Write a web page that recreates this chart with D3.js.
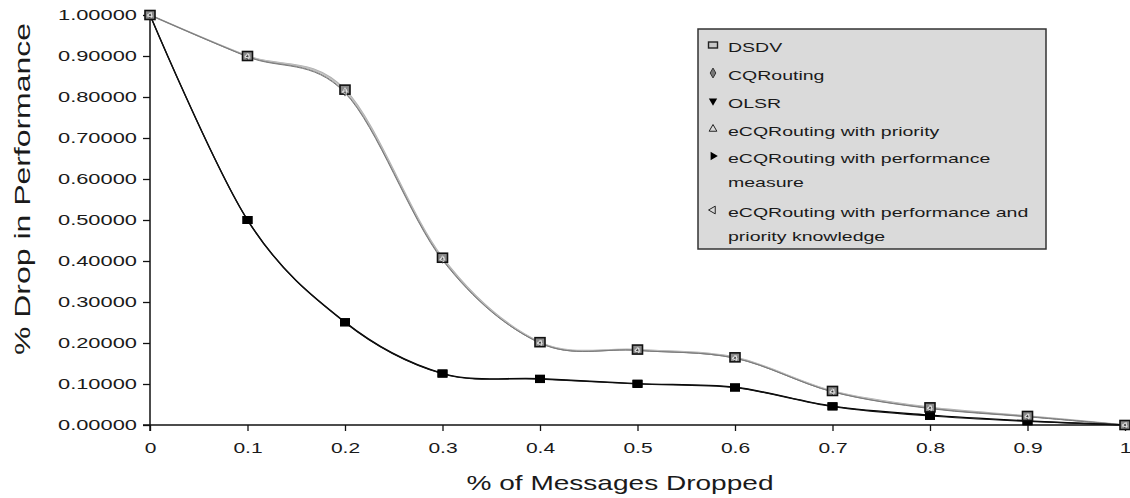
<!DOCTYPE html>
<html><head><meta charset="utf-8">
<script src="https://cdn.jsdelivr.net/npm/d3@7"></script>
<style>
html,body{margin:0;padding:0;background:#fff;}
text{font-family:"Liberation Sans",Arial,sans-serif;fill:#1a1a1a;}
</style></head>
<body><svg id="chart" width="1130" height="498"></svg>
<script>
// ---- data ----
const dropRates = [0, 0.1, 0.2, 0.3, 0.4, 0.5, 0.6, 0.7, 0.8, 0.9, 1];
const dsdv            = [1.0, 0.900, 0.818, 0.408, 0.202, 0.184, 0.165, 0.083, 0.043, 0.022, 0];
const cqRouting       = [1.0, 0.898, 0.810, 0.402, 0.200, 0.182, 0.163, 0.081, 0.040, 0.020, 0];
const olsr            = [1.0, 0.500, 0.251, 0.126, 0.113, 0.101, 0.092, 0.046, 0.024, 0.010, 0];
const ecqPriority     = [1.0, 0.900, 0.816, 0.406, 0.201, 0.183, 0.164, 0.082, 0.042, 0.021, 0];
const ecqPerformance  = [1.0, 0.500, 0.250, 0.125, 0.112, 0.100, 0.091, 0.045, 0.022, 0.009, 0];
const ecqPerfPriority = [1.0, 0.899, 0.812, 0.404, 0.200, 0.182, 0.163, 0.081, 0.041, 0.021, 0];
const seriesNames = ["DSDV", "CQRouting", "OLSR", "eCQRouting with priority",
  "eCQRouting with performance measure", "eCQRouting with performance and priority knowledge"];
const legendLines = [["DSDV"], ["CQRouting"], ["OLSR"], ["eCQRouting with priority"],
  ["eCQRouting with performance", "measure"], ["eCQRouting with performance and", "priority knowledge"]];
const xTickValues = [0, 0.1, 0.2, 0.3, 0.4, 0.5, 0.6, 0.7, 0.8, 0.9, 1];
const xTickLabels = ["0", "0.1", "0.2", "0.3", "0.4", "0.5", "0.6", "0.7", "0.8", "0.9", "1"];
const yTickValues = [0, 0.1, 0.2, 0.3, 0.4, 0.5, 0.6, 0.7, 0.8, 0.9, 1];
const yTickLabels = ["0.00000", "0.10000", "0.20000", "0.30000", "0.40000", "0.50000",
  "0.60000", "0.70000", "0.80000", "0.90000", "1.00000"];
const xTitle = "% of Messages Dropped";
const yTitle = "% Drop in Performance";

const seriesValues = [dsdv, cqRouting, olsr, ecqPriority, ecqPerformance, ecqPerfPriority];
const lineColors = ["#b0b0b0", "#7a7a7a", "#000000", "#c0c0c0", "#111111", "#8c8c8c"];
const lineWidths = [1.6, 1, 1.4, 1.2, 1.2, 1];

const svg = d3.select("#chart");
const x = d3.scaleLinear().domain([0, 1]).range([150, 1125]);
const y = d3.scaleLinear().domain([0, 1]).range([425, 15]);

function stretch(sel, f) {
  sel.each(function () {
    const l = this.getComputedTextLength();
    this.setAttribute("textLength", l * f);
    this.setAttribute("lengthAdjust", "spacingAndGlyphs");
  });
}

// ---- axes ----
const yAxis = svg.append("g").attr("transform", "translate(150,0)")
  .call(d3.axisLeft(y).tickValues(yTickValues).tickSizeOuter(0).tickSize(7)
    .tickFormat((d, i) => yTickLabels[i]));
yAxis.select(".domain").remove();
yAxis.selectAll("line").attr("stroke", "#111").attr("stroke-width", 1.3);
yAxis.selectAll("text").attr("x", -13).attr("font-size", 15).attr("fill", "#1a1a1a")
  .style("font-family", "Liberation Sans, Arial, sans-serif");
yAxis.selectAll("text").each(function () {
  this.setAttribute("textLength", 79);
  this.setAttribute("lengthAdjust", "spacingAndGlyphs");
});

const xAxis = svg.append("g").attr("transform", "translate(0,425)")
  .call(d3.axisBottom(x).tickValues(xTickValues).tickSizeOuter(0).tickSize(6)
    .tickFormat((d, i) => xTickLabels[i]));
xAxis.select(".domain").remove();
xAxis.selectAll("line").attr("stroke", "#111").attr("stroke-width", 1.3);
xAxis.selectAll("text").attr("y", 17).attr("font-size", 15).attr("fill", "#1a1a1a")
  .style("font-family", "Liberation Sans, Arial, sans-serif");
stretch(xAxis.selectAll("text"), 1.4);

// axis lines
svg.append("line").attr("x1", x(0)).attr("x2", x(0)).attr("y1", y(1)).attr("y2", y(0) + 6)
  .attr("stroke", "#111").attr("stroke-width", 1.5);
svg.append("line").attr("x1", x(0) - 7).attr("x2", x(1) + 2).attr("y1", y(0)).attr("y2", y(0))
  .attr("stroke", "#111").attr("stroke-width", 1.5);

// ---- lines ----
const line = d3.line().x((d, i) => x(dropRates[i])).y(d => y(d)).curve(d3.curveCardinal.tension(0));
const drawOrder = [0, 3, 5, 1, 2, 4];
drawOrder.forEach(k => {
  svg.append("path").datum(seriesValues[k]).attr("d", line)
    .attr("fill", "none").attr("stroke", lineColors[k]).attr("stroke-width", lineWidths[k]);
});

// ---- markers ----
// lower series (black)
[2, 4].forEach(k => {
  svg.append("g").selectAll("rect").data(seriesValues[k]).join("rect")
    .attr("x", (d, i) => x(dropRates[i]) - 5).attr("y", d => y(d) - 4)
    .attr("width", 10).attr("height", 8).attr("fill", "#000");
});
// upper series
svg.append("g").selectAll("rect").data(dsdv).join("rect")
  .attr("x", (d, i) => x(dropRates[i]) - 5).attr("y", d => y(d) - 4.5)
  .attr("width", 10).attr("height", 9).attr("fill", "#8a8a8a").attr("stroke", "#111").attr("stroke-width", 1.6);
svg.append("g").selectAll("path").data(cqRouting).join("path")
  .attr("transform", (d, i) => `translate(${x(dropRates[i])},${y(d)})`)
  .attr("d", d3.symbol(d3.symbolDiamond, 14)).attr("fill", "#333");
svg.append("g").selectAll("path").data(ecqPriority).join("path")
  .attr("transform", (d, i) => `translate(${x(dropRates[i])},${y(d)})`)
  .attr("d", d3.symbol(d3.symbolTriangle, 10)).attr("fill", "none").attr("stroke", "#ddd").attr("stroke-width", 0.8);
svg.append("g").selectAll("path").data(ecqPerfPriority).join("path")
  .attr("transform", (d, i) => `translate(${x(dropRates[i])},${y(d)}) rotate(-90)`)
  .attr("d", d3.symbol(d3.symbolTriangle, 10)).attr("fill", "none").attr("stroke", "#eee").attr("stroke-width", 0.8);

// ---- legend ----
const lg = svg.append("g");
lg.append("rect").attr("x", 698).attr("y", 29).attr("width", 348).attr("height", 220)
  .attr("fill", "#dadada").attr("stroke", "#333").attr("stroke-width", 1.5);
const rowY = [47, 75, 103, 131, 158, 212];
const mx = 713;
// icons
lg.append("rect").attr("x", mx - 4.5).attr("y", rowY[0] - 5).attr("width", 9).attr("height", 6)
  .attr("fill", "#c8c8c8").attr("stroke", "#222").attr("stroke-width", 1.4);
lg.append("path").attr("transform", `translate(${mx},${rowY[1] - 2})`)
  .attr("d", d3.symbol(d3.symbolDiamond, 28)).attr("fill", "#777").attr("stroke", "#333").attr("stroke-width", 1);
lg.append("path").attr("transform", `translate(${mx},${rowY[2] - 2}) rotate(180)`)
  .attr("d", d3.symbol(d3.symbolTriangle, 30)).attr("fill", "#000");
lg.append("path").attr("transform", `translate(${mx},${rowY[3] - 2})`)
  .attr("d", d3.symbol(d3.symbolTriangle, 26)).attr("fill", "none").attr("stroke", "#222").attr("stroke-width", 1);
lg.append("path").attr("transform", `translate(${mx},${rowY[4] - 2}) rotate(90)`)
  .attr("d", d3.symbol(d3.symbolTriangle, 30)).attr("fill", "#000");
lg.append("path").attr("transform", `translate(${mx},${rowY[5] - 2}) rotate(-90)`)
  .attr("d", d3.symbol(d3.symbolTriangle, 26)).attr("fill", "none").attr("stroke", "#222").attr("stroke-width", 1);
legendLines.forEach((lines, k) => {
  lines.forEach((t, j) => {
    lg.append("text").attr("x", 728).attr("y", rowY[k] + 5 + j * 24)
      .attr("font-size", 13).text(t);
  });
});
stretch(lg.selectAll("text"), 1.5);

// ---- titles ----
svg.append("text").attr("x", 620).attr("y", 490).attr("text-anchor", "middle")
  .attr("font-size", 21).attr("textLength", 307).attr("lengthAdjust", "spacingAndGlyphs").text(xTitle);
svg.append("text").attr("transform", "translate(30,189) rotate(-90)").attr("text-anchor", "middle")
  .attr("font-size", 22).attr("textLength", 332).attr("lengthAdjust", "spacingAndGlyphs").text(yTitle);
</script></body></html>
